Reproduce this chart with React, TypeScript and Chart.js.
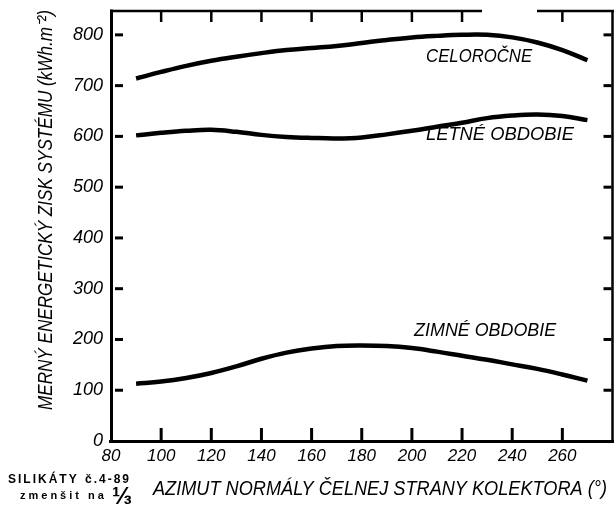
import { useEffect, useRef } from "react";
import { Chart, registerables } from "chart.js";

Chart.register(...registerables);

// ---- data ----
const AZIMUTH = [90, 100, 110, 120, 130, 140, 150, 160, 170, 180, 190, 200, 210, 220, 230, 240, 250, 260, 270];
const CELOROCNE = [714, 727, 739, 749, 757, 764, 770, 774, 778, 784, 790, 795, 798, 800, 800, 795, 785, 770, 750];
const LETNE = [602, 607, 611, 613, 609, 603, 599, 597, 596, 598, 604, 611, 619, 627, 636, 641, 643, 640, 632];
const ZIMNE = [113, 117, 124, 134, 147, 162, 174, 182, 187, 188, 187, 183, 176, 168, 160, 151, 142, 131, 119];

const SERIES_NAMES = ["CELOROČNE", "LETNÉ OBDOBIE", "ZIMNÉ OBDOBIE"];
const X_TICKS = [100, 120, 140, 160, 180, 200, 220, 240, 260];
const X_TOP_TICKS = [100, 120, 140, 160, 180, 200, 220, 260];
const Y_TICKS = [100, 200, 300, 400, 500, 600, 700, 800];
const X_TITLE = "AZIMUT NORMÁLY ČELNEJ STRANY KOLEKTORA (°)";
const Y_TITLE = "MERNÝ ENERGETICKÝ ZISK SYSTÉMU (kWh.m⁻²)";
const STAMP_1A = "SILIKÁTY";
const STAMP_1B = "č.4-89";
const STAMP_2 = "zmenšit na";
const STAMP_FRACTION = "⅓";

const FONT = '"Liberation Sans", Arial, sans-serif';

const decorPlugin = {
  id: "decor",
  afterDraw(chart: any) {
    const ctx = chart.ctx as CanvasRenderingContext2D;
    const xs = chart.scales.x;
    const ys = chart.scales.y;
    const ca = chart.chartArea;
    ctx.save();
    ctx.strokeStyle = "#000";
    ctx.fillStyle = "#000";
    ctx.lineCap = "butt";

    const line = (x1: number, y1: number, x2: number, y2: number, w: number) => {
      ctx.lineWidth = w;
      ctx.beginPath();
      ctx.moveTo(x1, y1);
      ctx.lineTo(x2, y2);
      ctx.stroke();
    };
    // frame
    line(ca.left + 0.5, ca.top - 1.5, ca.left + 0.5, ca.bottom + 2, 3); // left
    line(ca.left - 2, ca.bottom + 0.5, ca.right + 1.5, ca.bottom + 0.5, 3); // bottom
    line(ca.right, ca.top - 1, ca.right, ca.bottom + 2, 2.5); // right
    // top (with the gap seen in the scan)
    line(ca.left - 1, ca.top, 482, ca.top, 2.5);
    line(537, ca.top, ca.right + 1.5, ca.top, 2.5);

    // y ticks (inside, both sides)
    for (const v of Y_TICKS) {
      const y = ys.getPixelForValue(v);
      line(ca.left + 4, y, ca.left + 12, y, 3);
      line(ca.right - 9, y, ca.right - 1, y, 3);
    }
    // x ticks bottom
    for (const v of X_TICKS) {
      const x = xs.getPixelForValue(v);
      line(x, ca.bottom - 13, x, ca.bottom, 3);
    }
    // x ticks top
    for (const v of X_TOP_TICKS) {
      const x = xs.getPixelForValue(v);
      line(x, ca.top + 1, x, ca.top + 11, 2.5);
    }

    // curve labels
    ctx.font = `italic 19px ${FONT}`;
    ctx.textAlign = "center";
    ctx.textBaseline = "middle";
    const labelPos = [
      { x: 226.8, y: 756, w: 106 },
      { x: 235.1, y: 603.7, w: 148 },
      { x: 229.2, y: 216.7, w: 142 },
    ];
    SERIES_NAMES.forEach((name, i) => {
      const p = labelPos[i];
      ctx.fillText(name, xs.getPixelForValue(p.x), ys.getPixelForValue(p.y), p.w);
    });

    // x title
    ctx.font = `italic 20px ${FONT}`;
    ctx.textAlign = "center";
    ctx.textBaseline = "alphabetic";
    ctx.fillText(X_TITLE, 380, 495, 454);

    // y title
    ctx.save();
    ctx.translate(52, 210);
    ctx.rotate(-Math.PI / 2);
    ctx.font = `italic 21px ${FONT}`;
    ctx.textAlign = "center";
    ctx.textBaseline = "alphabetic";
    ctx.fillText(Y_TITLE, 0, 0, 400);
    ctx.restore();

    // stamp
    ctx.textAlign = "left";
    ctx.textBaseline = "alphabetic";
    ctx.font = `bold 12px ${FONT}`;
    (ctx as any).letterSpacing = "2px";
    ctx.fillText(STAMP_1A, 8, 483, 72);
    ctx.fillText(STAMP_1B, 85, 483, 53);
    ctx.font = `bold 11px ${FONT}`;
    (ctx as any).letterSpacing = "3px";
    ctx.fillText(STAMP_2, 20, 499, 92);
    (ctx as any).letterSpacing = "0px";
    ctx.font = `bold 24px ${FONT}`;
    ctx.fillText(STAMP_FRACTION, 112, 504, 22);

    ctx.restore();
  },
};

export default function App() {
  const ref = useRef<HTMLCanvasElement>(null);
  useEffect(() => {
    if (!ref.current) return;
    const mk = (vals: number[]) => AZIMUTH.map((x, i) => ({ x, y: vals[i] }));
    const common = {
      borderColor: "#000",
      backgroundColor: "#000",
      borderWidth: 4.5,
      pointRadius: 0,
      tension: 0.4,
      fill: false,
    };
    const chart = new Chart(ref.current, {
      type: "line",
      data: {
        datasets: [
          { label: SERIES_NAMES[0], data: mk(CELOROCNE), ...common },
          { label: SERIES_NAMES[1], data: mk(LETNE), ...common },
          { label: SERIES_NAMES[2], data: mk(ZIMNE), ...common },
        ],
      },
      options: {
        responsive: false,
        animation: false,
        layout: { padding: { left: 0, right: 1.5, top: 11, bottom: 0 } },
        plugins: { legend: { display: false }, tooltip: { enabled: false } },
        scales: {
          x: {
            type: "linear",
            min: 80,
            max: 280,
            grid: { display: false, drawTicks: false },
            border: { display: false },
            ticks: {
              stepSize: 20,
              padding: 5,
              color: "#000",
              font: { family: FONT, size: 17, style: "italic" },
              callback: (v: any) => (Number(v) <= 260 ? String(v) : ""),
            },
            afterFit: (s: any) => {
              s.height = 65;
              s.paddingLeft = 0;
              s.paddingRight = 0;
            },
          },
          y: {
            type: "linear",
            min: 0,
            max: 847,
            grid: { display: false, drawTicks: false },
            border: { display: false },
            ticks: {
              stepSize: 100,
              includeBounds: false,
              padding: 8,
              color: "#000",
              font: { family: FONT, size: 18, style: "italic" },
            },
            afterFit: (s: any) => {
              s.width = 111;
              s.paddingTop = 0;
              s.paddingBottom = 0;
            },
          },
        },
      } as any,
      plugins: [decorPlugin],
    });
    return () => chart.destroy();
  }, []);
  return (
    <div style={{ position: "absolute", left: 0, top: 0, width: 614, height: 506, background: "#fff" }}>
      <canvas ref={ref} width={614} height={506} style={{ display: "block", width: 614, height: 506 }} />
    </div>
  );
}
